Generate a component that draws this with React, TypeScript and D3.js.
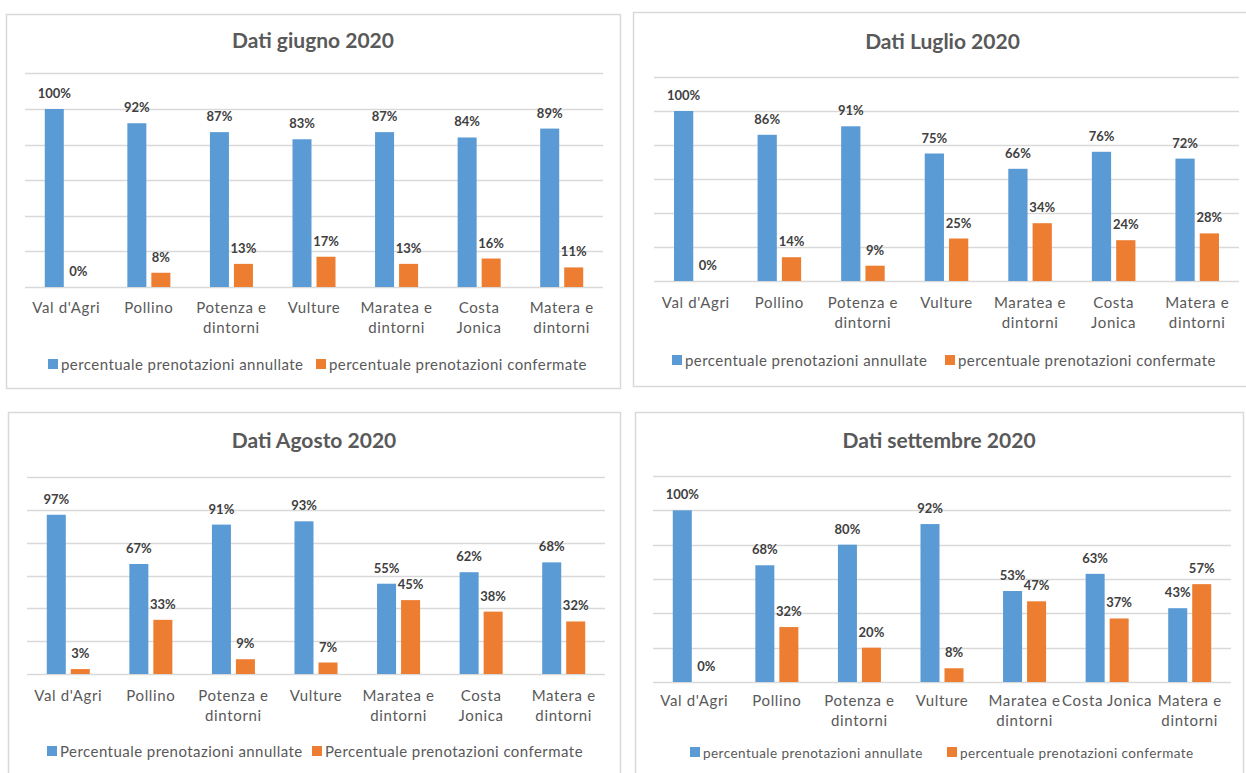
import React from "react";
import * as d3 from "d3";

const categories = ["Val d'Agri", "Pollino", "Potenza e dintorni", "Vulture", "Maratea e dintorni", "Costa Jonica", "Matera e dintorni"];
const titles = ["Dati giugno 2020", "Dati Luglio 2020", "Dati Agosto 2020", "Dati settembre 2020"];
const seriesNames = [
  ["percentuale prenotazioni annullate", "percentuale prenotazioni confermate"],
  ["percentuale prenotazioni annullate", "percentuale prenotazioni confermate"],
  ["Percentuale prenotazioni annullate", "Percentuale prenotazioni confermate"],
  ["percentuale prenotazioni annullate", "percentuale prenotazioni confermate"],
];
const giugnoAnnullate = [100, 92, 87, 83, 87, 84, 89];
const giugnoConfermate = [0, 8, 13, 17, 13, 16, 11];
const luglioAnnullate = [100, 86, 91, 75, 66, 76, 72];
const luglioConfermate = [0, 14, 9, 25, 34, 24, 28];
const agostoAnnullate = [97, 67, 91, 93, 55, 62, 68];
const agostoConfermate = [3, 33, 9, 7, 45, 38, 32];
const settembreAnnullate = [100, 68, 80, 92, 53, 63, 43];
const settembreConfermate = [0, 32, 20, 8, 47, 37, 57];
const yTicks = [0, 20, 40, 60, 80, 100, 120];

const panelData = [
  [giugnoAnnullate, giugnoConfermate],
  [luglioAnnullate, luglioConfermate],
  [agostoAnnullate, agostoConfermate],
  [settembreAnnullate, settembreConfermate],
];

const COLORS = ["#5B9BD5", "#ED7D31"];
const FONT = "Lato, 'Open Sans', sans-serif";

const layouts = [
  { box: [6, 14, 614, 374], titleY: 48, x0: 25, x1: 603, yTop: 73.4, yBase: 287, catY: 313, catW: 82, legY: 366, legX: [48, 316], legFs: 15, legLs: 0.45 },
  { box: [633, 12, 625, 374], titleY: 49, x0: 654, x1: 1239, yTop: 77, yBase: 281, catY: 308, catW: 82, legY: 362, legX: [672, 945], legFs: 15, legLs: 0.45 },
  { box: [8, 412, 612, 375], titleY: 448, x0: 27, x1: 605, yTop: 477, yBase: 674, catY: 701, catW: 82, legY: 753, legX: [47, 312], legFs: 15, legLs: 0.45 },
  { box: [635, 412, 608, 375], titleY: 448, x0: 653, x1: 1231, yTop: 476, yBase: 682, catY: 706, catW: 96, legY: 754, legX: [690, 947], legFs: 13.5, legLs: 0.45 },
];

const CAT_FS = 15;
const CAT_LS = 0.65;

let ctx: CanvasRenderingContext2D | null = null;
function measure(text: string, font: string) {
  if (!ctx) ctx = document.createElement("canvas").getContext("2d");
  ctx!.font = font;
  return ctx!.measureText(text).width + text.length * CAT_LS;
}
function wrap(text: string, maxW: number, font: string) {
  const words = text.split(" ");
  const lines: string[] = [];
  let cur = "";
  for (const w of words) {
    const t = cur ? cur + " " + w : w;
    if (cur && measure(t, font) > maxW) {
      lines.push(cur);
      cur = w;
    } else cur = t;
  }
  if (cur) lines.push(cur);
  return lines;
}

function Panel({ idx }: { idx: number }) {
  const L = layouts[idx];
  const data = panelData[idx];
  const x = d3.scaleBand<string>().domain(categories).range([L.x0, L.x1]).paddingInner(0.479).paddingOuter(0.2395);
  const xs = d3.scaleBand<number>().domain([0, 1]).range([0, x.bandwidth()]).paddingInner(0.208);
  const y = d3.scaleLinear().domain([0, 120]).range([L.yBase, L.yTop]);
  const [bx, by, bw, bh] = L.box;
  const catFont = `${CAT_FS}px ${FONT}`;
  return (
    <g>
      <rect x={bx + 0.5} y={by + 0.5} width={bw} height={bh} fill="#fff" stroke="#D9D9D9" strokeWidth={1.5} />
      <text x={bx + bw / 2 - (idx === 1 ? 3 : 0)} y={L.titleY} textAnchor="middle" fontFamily={FONT} fontWeight={700} fontSize={21} fill="#595959">
        {titles[idx]}
      </text>
      {yTicks.map((t) => (
        <line key={t} x1={L.x0} x2={L.x1} y1={Math.round(y(t)) + 0.5} y2={Math.round(y(t)) + 0.5} stroke="#D9D9D9" strokeWidth={1.3} />
      ))}
      {categories.map((c, i) =>
        data.map((vals, s) => {
          const v = vals[i];
          const bx0 = (x(c) as number) + (xs(s) as number);
          return (
            <g key={c + s}>
              <rect x={bx0} y={y(v)} width={xs.bandwidth()} height={L.yBase - y(v)} fill={COLORS[s]} />
              <text x={bx0 + xs.bandwidth() / 2} y={y(v) - 11} textAnchor="middle" fontFamily={FONT} fontWeight={700} fontSize={13} fill="#404040">
                {v + "%"}
              </text>
            </g>
          );
        })
      )}
      {categories.map((c) => {
        const lines = wrap(c, L.catW, catFont);
        return (
          <text key={c} x={(x(c) as number) + x.bandwidth() / 2} y={L.catY} textAnchor="middle" fontFamily={FONT} fontSize={CAT_FS} letterSpacing={CAT_LS} fill="#595959">
            {lines.map((ln, k) => (
              <tspan key={k} x={(x(c) as number) + x.bandwidth() / 2} dy={k === 0 ? 0 : 20}>
                {ln}
              </tspan>
            ))}
          </text>
        );
      })}
      {seriesNames[idx].map((n, s) => (
        <g key={n}>
          <rect x={L.legX[s]} y={L.legY - 7} width={10} height={10} fill={COLORS[s]} />
          <text x={L.legX[s] + 13} y={L.legY + 4} fontFamily={FONT} fontSize={L.legFs} letterSpacing={L.legLs} fill="#595959">
            {n}
          </text>
        </g>
      ))}
    </g>
  );
}

export default function App() {
  return (
    <div style={{ position: "absolute", left: 0, top: 0 }}>
      <svg width={1246} height={773} style={{ display: "block", background: "#fff" }}>
        {[0, 1, 2, 3].map((i) => (
          <Panel key={i} idx={i} />
        ))}
      </svg>
    </div>
  );
}
